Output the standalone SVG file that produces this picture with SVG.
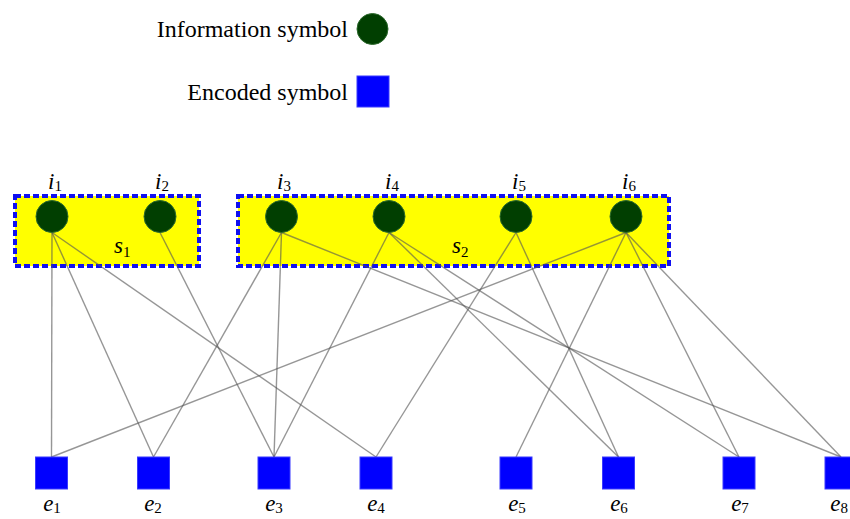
<svg xmlns="http://www.w3.org/2000/svg" width="850" height="519" viewBox="0 0 850 519">
  <style>
    .legend { font-family: "Liberation Serif", "Times New Roman", serif; font-size: 24px; fill: #000; }
    .lbl { font-family: "Liberation Serif", "Times New Roman", serif; font-style: italic; font-size: 23px; fill: #000; }
    .sub { font-size: 15px; font-style: normal; }
    .group { fill: #ffff00; stroke: #1010f0; stroke-width: 4; stroke-dasharray: 6 3; }
    .info { fill: #013f01; stroke: #2d6a2d; stroke-width: 1; }
    .enc { fill: #0000ff; stroke: #3a3aff; stroke-width: 1; }
    .edge { stroke: #555; stroke-opacity: 0.62; stroke-width: 1.4; fill: none; }
  </style>

  <rect width="850" height="519" fill="#fff"/>

  <!-- legend -->
  <g id="legend">
    <text class="legend" x="348" y="37" text-anchor="end">Information symbol</text>
    <circle class="info" cx="372.5" cy="29" r="15.5"/>
    <text class="legend" x="348" y="100" text-anchor="end">Encoded symbol</text>
    <rect class="enc" x="357" y="76" width="32" height="31"/>
  </g>

  <!-- symbol groups -->
  <g id="s1">
    <rect class="group" x="15" y="196" width="184" height="70"/>
    <text class="lbl" x="114" y="253">s<tspan class="sub" dy="4">1</tspan></text>
  </g>
  <g id="s2">
    <rect class="group" x="238" y="196" width="431" height="70"/>
    <text class="lbl" x="452" y="253">s<tspan class="sub" dy="4">2</tspan></text>
  </g>

  <!-- connectors: information symbol (bottom) to encoded symbol (top) -->
  <g id="edges" class="edge">
    <line x1="52" y1="232.5" x2="51.5" y2="457"/>
    <line x1="52" y1="232.5" x2="153.5" y2="457"/>
    <line x1="52" y1="232.5" x2="376" y2="457"/>
    <line x1="160" y1="232.5" x2="274" y2="457"/>
    <line x1="281.5" y1="232.5" x2="153.5" y2="457"/>
    <line x1="281.5" y1="232.5" x2="274" y2="457"/>
    <line x1="281.5" y1="232.5" x2="841" y2="457"/>
    <line x1="389" y1="232.5" x2="274" y2="457"/>
    <line x1="389" y1="232.5" x2="618.5" y2="457"/>
    <line x1="389" y1="232.5" x2="739" y2="457"/>
    <line x1="516" y1="232.5" x2="376" y2="457"/>
    <line x1="516" y1="232.5" x2="618.5" y2="457"/>
    <line x1="626" y1="232.5" x2="51.5" y2="457"/>
    <line x1="626" y1="232.5" x2="516" y2="457"/>
    <line x1="626" y1="232.5" x2="739" y2="457"/>
    <line x1="626" y1="232.5" x2="841" y2="457"/>
  </g>

  <!-- information symbols -->
  <g id="i1"><circle class="info" cx="52" cy="216.5" r="16"/><text class="lbl" x="48" y="189">i<tspan class="sub" dy="2">1</tspan></text></g>
  <g id="i2"><circle class="info" cx="160" cy="216.5" r="16"/><text class="lbl" x="155" y="189">i<tspan class="sub" dy="2">2</tspan></text></g>
  <g id="i3"><circle class="info" cx="281.5" cy="216.5" r="16"/><text class="lbl" x="277" y="189">i<tspan class="sub" dy="2">3</tspan></text></g>
  <g id="i4"><circle class="info" cx="389" cy="216.5" r="16"/><text class="lbl" x="385" y="189">i<tspan class="sub" dy="2">4</tspan></text></g>
  <g id="i5"><circle class="info" cx="516" cy="216.5" r="16"/><text class="lbl" x="512" y="189">i<tspan class="sub" dy="2">5</tspan></text></g>
  <g id="i6"><circle class="info" cx="626" cy="216.5" r="16"/><text class="lbl" x="622" y="189">i<tspan class="sub" dy="2">6</tspan></text></g>

  <!-- encoded symbols -->
  <g id="e1"><rect class="enc" x="35.5" y="457" width="32" height="32"/><text class="lbl" x="52" y="511" text-anchor="middle">e<tspan class="sub" dy="2">1</tspan></text></g>
  <g id="e2"><rect class="enc" x="137.5" y="457" width="32" height="32"/><text class="lbl" x="153" y="511" text-anchor="middle">e<tspan class="sub" dy="2">2</tspan></text></g>
  <g id="e3"><rect class="enc" x="258" y="457" width="32" height="32"/><text class="lbl" x="274" y="511" text-anchor="middle">e<tspan class="sub" dy="2">3</tspan></text></g>
  <g id="e4"><rect class="enc" x="360" y="457" width="32" height="32"/><text class="lbl" x="376" y="511" text-anchor="middle">e<tspan class="sub" dy="2">4</tspan></text></g>
  <g id="e5"><rect class="enc" x="500" y="457" width="32" height="32"/><text class="lbl" x="517" y="511" text-anchor="middle">e<tspan class="sub" dy="2">5</tspan></text></g>
  <g id="e6"><rect class="enc" x="602.5" y="457" width="32" height="32"/><text class="lbl" x="619" y="511" text-anchor="middle">e<tspan class="sub" dy="2">6</tspan></text></g>
  <g id="e7"><rect class="enc" x="723" y="457" width="32" height="32"/><text class="lbl" x="740" y="511" text-anchor="middle">e<tspan class="sub" dy="2">7</tspan></text></g>
  <g id="e8"><rect class="enc" x="825" y="457" width="32" height="32"/><text class="lbl" x="848" y="511" text-anchor="end">e<tspan class="sub" dy="2">8</tspan></text></g>
</svg>
